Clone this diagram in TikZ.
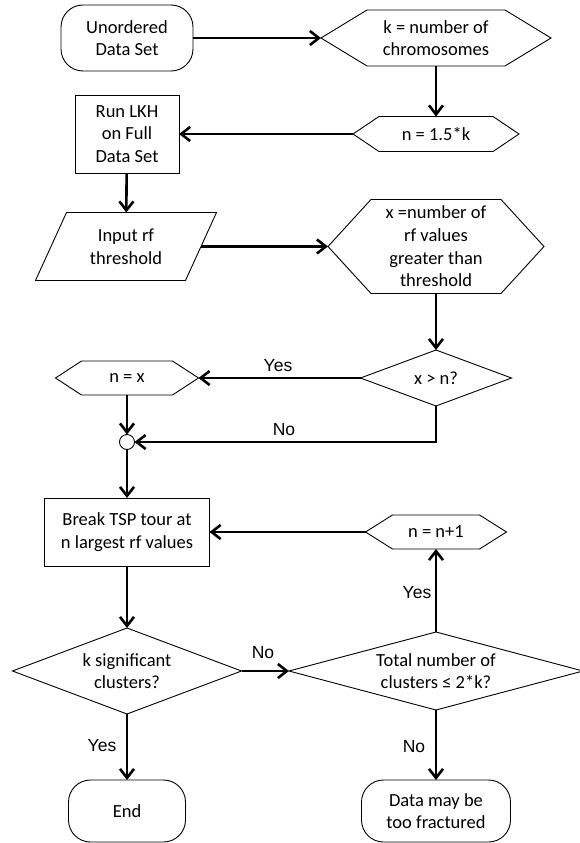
\documentclass[tikz,border=0pt]{standalone}
\usepackage{fontspec}
\setmainfont{Carlito}
\newfontfamily\labelfont{Liberation Sans}
\usetikzlibrary{arrows.meta}

% outlines drawn round invisible, exactly sized nodes
\newcommand\hexoutline[2]{%
  \draw[outline] (#1.west) -- ([xshift=#2]#1.north west) -- ([xshift=-#2]#1.north east)
    -- (#1.east) -- ([xshift=-#2]#1.south east) -- ([xshift=#2]#1.south west) -- cycle;}
\newcommand\diamondoutline[1]{%
  \draw[outline] (#1.west) -- (#1.north) -- (#1.east) -- (#1.south) -- cycle;}
\newcommand\slantoutline[2]{%
  \draw[outline] ([xshift=-#2]#1.south west) -- ([xshift=#2]#1.north west)
    -- ([xshift=#2]#1.north east) -- ([xshift=-#2]#1.south east) -- cycle;}

\begin{document}
\begin{tikzpicture}[x=1pt,y=-1pt,
  every node/.style={inner sep=0pt, outer sep=0pt, align=center,
    font=\fontsize{18.5}{22.6}\selectfont},
  sized/.style 2 args={minimum width=#1, minimum height=#2},
  terminal/.style={draw, line width=0.9pt, rounded corners=22pt},
  process/.style={draw, line width=0.9pt},
  outline/.style={line width=0.9pt, line join=miter},
  flow/.style={line width=2.6pt, -{Straight Barb[length=9pt,width=14pt]}},
  lbl/.style={font=\labelfont\fontsize{17.5}{20}\selectfont}]

\useasboundingbox (0,0) rectangle (579,843);

% nodes
\node[terminal, sized={132}{66}] (uds) at (127,38) {Unordered\\Data Set};
\node[sized={230}{56}] (khex) at (436,38) {k = number of\\chromosomes};
\node[sized={166}{35}] (nhex) at (436,134) {n = 1.5*k};
\node[process, sized={104}{78}] (lkh) at (127,134) {Run LKH\\on Full\\Data Set};
\node[sized={150}{68}] (rf) at (126,246.5) {Input rf\\threshold};
\node[sized={216}{94}] (xhex) at (436,246.5) {x =number of\\rf values\\greater than\\threshold};
\node[sized={151}{56}] (xgn) at (436,378) {x {\textgreater} n?};
\node[sized={143}{34}] (nx) at (127,378) {n = x};
\node[circle, draw, line width=0.9pt, minimum size=15pt] (join) at (127,442) {};
\node[process, sized={165}{68}] (tsp) at (127,532) {Break TSP tour at\\n largest rf values};
\node[sized={141}{34}] (nn1) at (436,532) {n = n+1};
\node[sized={229}{86}] (ksig) at (127,671) {k significant\\clusters?};
\node[sized={294}{78}] (total) at (436,671) {Total number of\\clusters ≤ 2*k?};
\node[terminal, sized={117}{62}] (end) at (127,811) {End};
\node[terminal, sized={149}{62}] (frac) at (436,811) {Data may be\\too fractured};

% shape outlines
\hexoutline{khex}{46}
\hexoutline{nhex}{26}
\hexoutline{xhex}{43}
\hexoutline{nx}{26}
\hexoutline{nn1}{27}
\slantoutline{rf}{15.5}
\diamondoutline{xgn}
\diamondoutline{ksig}
\diamondoutline{total}

% connectors
\draw[flow] (uds) -- (khex);
\draw[flow] (khex) -- (nhex);
\draw[flow] (nhex) -- (lkh);
\draw[flow] (lkh) -- (rf);
\draw[flow] (rf) -- (xhex);
\draw[flow] (xhex) -- (xgn);
\draw[flow] (xgn) -- (nx);
\draw[flow] (nx) -- (join);
\draw[flow] (xgn.south) |- (join);
\draw[flow] (join) -- (tsp);
\draw[flow] (nn1) -- (tsp);
\draw[flow] (tsp) -- (ksig);
\draw[flow] (ksig) -- (total);
\draw[flow] (total) -- (nn1);
\draw[flow] (ksig) -- (end);
\draw[flow] (total) -- (frac);

% branch labels
\node[lbl] (yes1) at (278,366) {Yes};
\node[lbl] (no1) at (284,430) {No};
\node[lbl] (yes2) at (417,593) {Yes};
\node[lbl] (no2) at (263,653) {No};
\node[lbl] (yes3) at (102,746) {Yes};
\node[lbl] (no3) at (414,747) {No};
\end{tikzpicture}
\end{document}
